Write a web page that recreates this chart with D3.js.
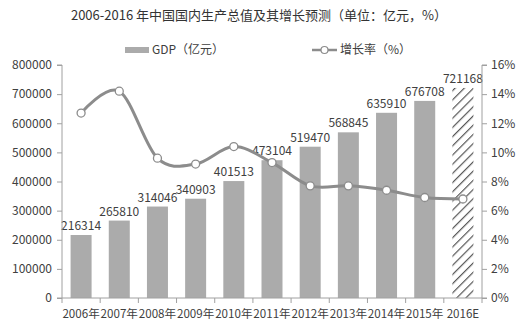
<!DOCTYPE html>
<html><head><meta charset="utf-8">
<script src="https://cdn.jsdelivr.net/npm/d3@7"></script>
<style>
html,body{margin:0;padding:0;background:#fff;}
text{font-family:"Noto Sans CJK SC","Noto Sans",sans-serif;}
</style>
</head><body>
<svg id="c" width="521" height="335"></svg>
<script>
const categories = ["2006年","2007年","2008年","2009年","2010年","2011年","2012年","2013年","2014年","2015年","2016E"];
const gdp = [216314,265810,314046,340903,401513,473104,519470,568845,635910,676708,721168];
const growth = [12.7,14.2,9.6,9.2,10.4,9.3,7.7,7.7,7.4,6.9,6.8];
const leftTicks = [0,100000,200000,300000,400000,500000,600000,700000,800000];
const rightTicks = [0,2,4,6,8,10,12,14,16];
const title = "2006-2016 年中国国内生产总值及其增长预测（单位：亿元，%）";

const svg = d3.select("#c");
const L = 62, R = 482, T = 65, B = 298;
const x = d3.scaleBand().domain(categories).range([L, R]).paddingInner(0.45).paddingOuter(0.225);
const xb = d3.scaleBand().domain(categories).range([L, R]);
const yL = d3.scaleLinear().domain([0, 800000]).range([B, T]);
const yR = d3.scaleLinear().domain([0, 16]).range([B, T]);
const axisColor = "#a0a0a0", textColor = "#404040";

// hatch pattern
const defs = svg.append("defs");
const pat = defs.append("pattern").attr("id","hatch").attr("patternUnits","userSpaceOnUse")
  .attr("width",6.5).attr("height",6.5).attr("patternTransform","rotate(45)");
pat.append("rect").attr("width",6.5).attr("height",6.5).attr("fill","#fff");
pat.append("line").attr("x1",0).attr("y1",0).attr("x2",0).attr("y2",6.5).attr("stroke","#555").attr("stroke-width",2.4);

// title
svg.append("text").attr("x", 259).attr("y", 20).attr("text-anchor","middle")
  .attr("font-size", 13).attr("fill", "#333").text(title);

// bars
svg.selectAll("rect.bar").data(gdp).join("rect").attr("class","bar")
  .attr("x",(d,i)=>x(categories[i])).attr("width",x.bandwidth())
  .attr("y",d=>yL(d)).attr("height",d=>B-yL(d))
  .attr("fill",(d,i)=> i===gdp.length-1 ? "url(#hatch)" : "#ababab");

// bar labels
svg.selectAll("text.lbl").data(gdp).join("text").attr("class","lbl")
  .attr("x",(d,i)=>x(categories[i])+x.bandwidth()/2)
  .attr("y",d=>yL(d)-5).attr("text-anchor","middle")
  .attr("font-size",12).attr("fill",textColor).text(d=>d);

// axes
const gl = svg.append("g").attr("transform",`translate(${L},0)`)
  .call(d3.axisLeft(yL).tickValues(leftTicks).tickSize(5).tickPadding(5).tickFormat(d3.format("d")));
const gr = svg.append("g").attr("transform",`translate(${R},0)`)
  .call(d3.axisRight(yR).tickValues(rightTicks).tickSize(5).tickPadding(4).tickFormat(d=>d+"%"));
const gb = svg.append("g").attr("transform",`translate(0,${B})`)
  .call(d3.axisBottom(xb).tickSize(0).tickPadding(12));
// band boundary ticks
svg.append("g").selectAll("line").data(categories.concat([null])).join("line")
  .attr("x1",(d,i)=>L+i*xb.step()).attr("x2",(d,i)=>L+i*xb.step())
  .attr("y1",B).attr("y2",B+5).attr("stroke",axisColor);
[gl,gr,gb].forEach(g=>{
  g.selectAll("path.domain").attr("stroke",axisColor);
  g.selectAll("line").attr("stroke",axisColor);
  g.selectAll("text").attr("font-size",12).attr("fill",textColor)
   .style("font-family",'"Noto Sans CJK SC","Noto Sans",sans-serif');
});
gb.selectAll("text").attr("font-size",11.6);
gl.select("path.domain").attr("d",`M-5,${T}H0V${B}H-5`);
gr.select("path.domain").attr("d",`M5,${T}H0V${B}H5`);
gb.select("path.domain").attr("d",`M${L},0H${R}`);

// growth line
const line = d3.line().x((d,i)=>xb(categories[i])+xb.bandwidth()/2).y(d=>yR(d)).curve(d3.curveCatmullRom.alpha(0));
svg.append("path").datum(growth).attr("d",line).attr("fill","none").attr("stroke","#8c8c8c").attr("stroke-width",3);
svg.selectAll("circle.pt").data(growth).join("circle").attr("class","pt")
  .attr("cx",(d,i)=>xb(categories[i])+xb.bandwidth()/2).attr("cy",d=>yR(d)).attr("r",4)
  .attr("fill","#fff").attr("stroke","#8c8c8c").attr("stroke-width",1.3);

// legend
const lg = svg.append("g");
lg.append("rect").attr("x",125).attr("y",47).attr("width",24).attr("height",6).attr("fill","#ababab");
lg.append("text").attr("x",152).attr("y",54).attr("font-size",12).attr("fill",textColor).text("GDP（亿元）");
lg.append("line").attr("x1",312).attr("x2",337).attr("y1",50).attr("y2",50).attr("stroke","#8c8c8c").attr("stroke-width",2.5);
lg.append("circle").attr("cx",324.5).attr("cy",50).attr("r",3.5).attr("fill","#fff").attr("stroke","#8c8c8c").attr("stroke-width",1.2);
lg.append("text").attr("x",340).attr("y",54).attr("font-size",12).attr("fill",textColor).text("增长率（%）");
</script>
</body></html>
